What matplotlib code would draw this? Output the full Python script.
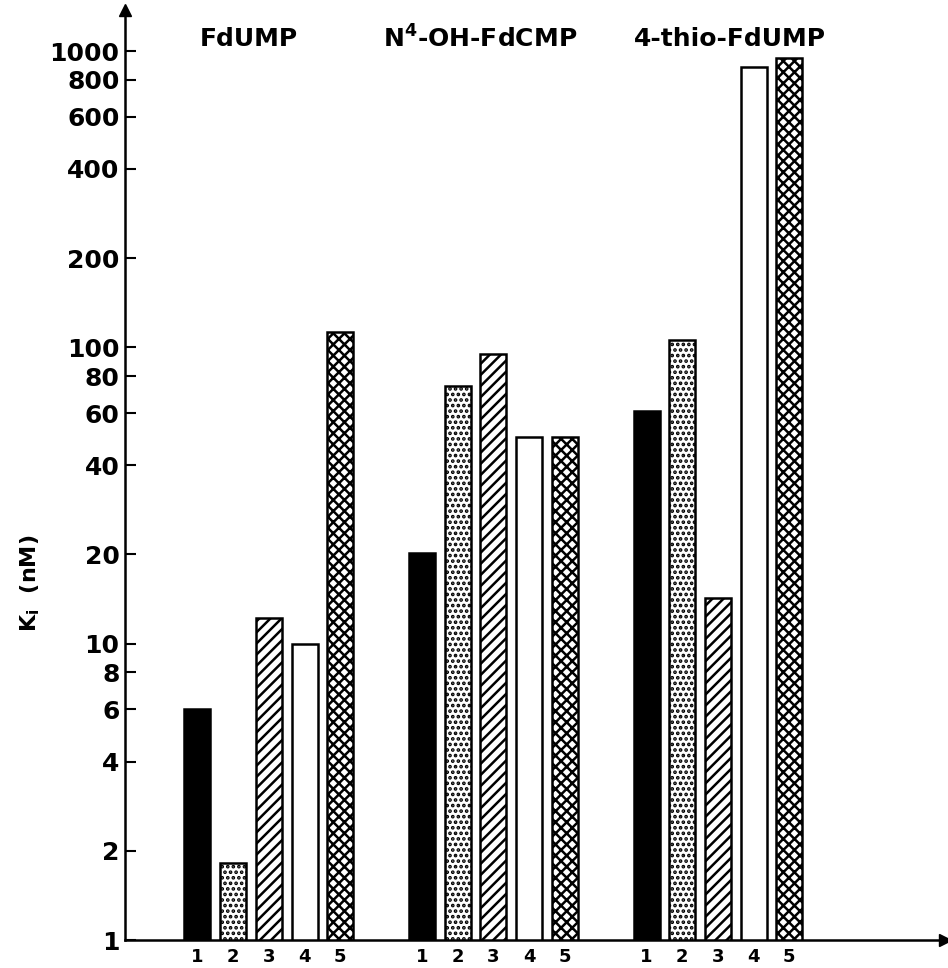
import numpy as np
import matplotlib
matplotlib.use("Agg")
import matplotlib.pyplot as plt
from matplotlib.ticker import FixedLocator, NullLocator, FixedFormatter

plt.rcParams['font.family'] = ['DejaVu Sans']
plt.rcParams['hatch.linewidth'] = 1.8

groups = ["FdUMP", r"N$^{\mathbf{4}}$-OH-FdCMP", "4-thio-FdUMP"]
bar_labels = ["1", "2", "3", "4", "5"]
fdump = [6.0, 1.82, 12.2, 10.0, 113]
n4oh_fdcmp = [20.2, 74, 95, 50, 50]
thio_fdump = [61, 106, 14.3, 884, 948]
values = [fdump, n4oh_fdcmp, thio_fdump]
yticks = [1, 2, 4, 6, 8, 10, 20, 40, 60, 80, 100, 200, 400, 600, 800, 1000]

# bar styles: solid, stipple, diagonal, open, crosshatch
faces = ["black", "white", "white", "white", "white"]
hatches = [None, "...", "///", None, "xxx"]

fig = plt.figure(figsize=(9.48, 9.68), dpi=100)
ax = fig.add_axes([125 / 948, 28 / 968, 820 / 948, 930 / 968])
ax.set_yscale("log")

first = 2.03
gstep = 6.29
width = 0.73
title_x = [3.47, 9.94, 16.95]
for g, vals in enumerate(values):
    xs = first + g * gstep + np.arange(5)
    for b in range(5):
        ax.bar(xs[b], vals[b], width=width, color=faces[b],
               edgecolor="black", linewidth=1.8, hatch=hatches[b])
    ax.text(title_x[g], 1100, groups[g], ha="center", va="center",
            fontsize=18, fontweight="bold")

ax.set_ylim(1, 1376)
ax.set_xlim(0, 22.97)
ax.yaxis.set_major_locator(FixedLocator(yticks))
ax.yaxis.set_major_formatter(FixedFormatter([str(t) for t in yticks]))
ax.yaxis.set_minor_locator(NullLocator())
ax.tick_params(axis="y", direction="in", length=8, width=1.5, pad=4,
               labelsize=18)
for lab in ax.get_yticklabels():
    lab.set_fontweight("bold")

xpos = [first + g * gstep + b for g in range(3) for b in range(5)]
ax.set_xticks(xpos)
ax.set_xticklabels(bar_labels * 3, fontsize=13, fontweight="bold")
ax.tick_params(axis="x", length=0, pad=6)

for s in ["top", "right"]:
    ax.spines[s].set_visible(False)
for s in ["left", "bottom"]:
    ax.spines[s].set_linewidth(1.8)

ax.plot([0], [1], marker="^", color="black", markersize=9,
        transform=ax.transAxes, clip_on=False)
ax.plot([1], [0], marker=">", color="black", markersize=9,
        transform=ax.transAxes, clip_on=False)

fig.text(30 / 948, 1 - 583 / 968, r"K$_{\mathbf{i}}$  (nM)", rotation=90,
         ha="center", va="center", fontsize=16, fontweight="bold")

fig.savefig("out.png", dpi=100)
